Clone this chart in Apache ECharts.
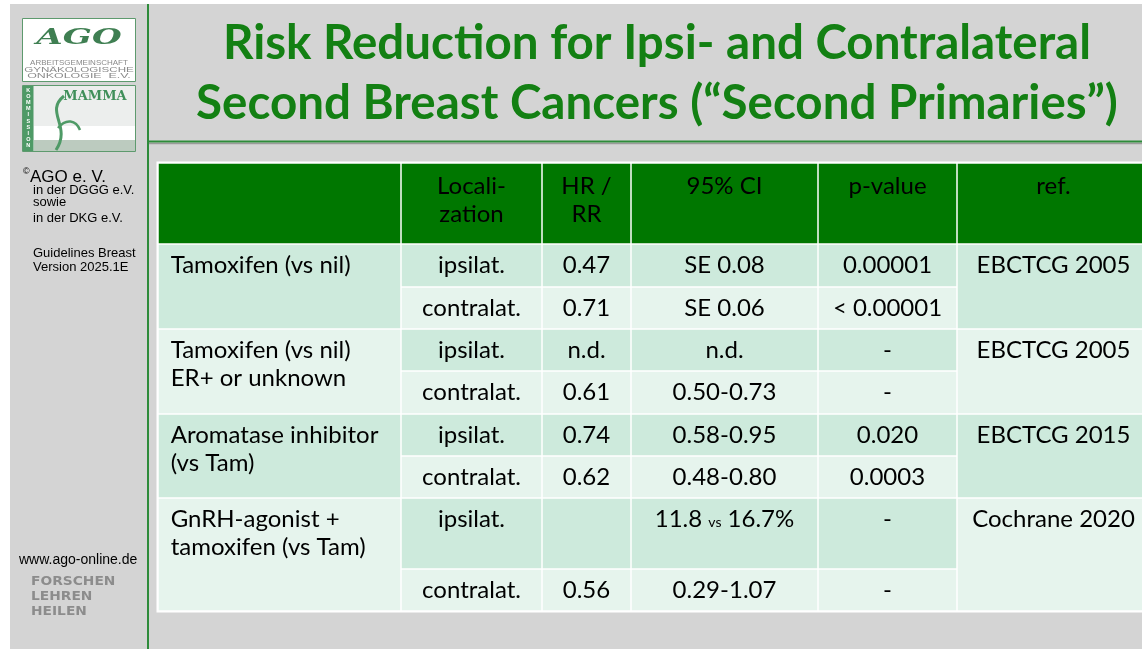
<!DOCTYPE html>
<html>
<head>
<meta charset="utf-8">
<script src="https://cdn.jsdelivr.net/npm/echarts@6/dist/echarts.min.js"></script>
<style>
  html, body { margin: 0; padding: 0; background: #ffffff; }
  #chart { width: 1142px; height: 649px; }
</style>
</head>
<body>
<div id="chart"></div>
<script>
// ---- table content ----
const TITLE_LINES = [
  'Risk Reduction for Ipsi- and Contralateral',
  'Second Breast Cancers (\u201CSecond Primaries\u201D)'
]
const HEADERS = ['', 'Locali-\nzation', 'HR /\nRR', '95% CI', 'p-value', 'ref.']
const TREATMENTS = [
  'Tamoxifen (vs nil)',
  'Tamoxifen (vs nil)\nER+ or unknown',
  'Aromatase inhibitor\n(vs Tam)',
  'GnRH-agonist +\ntamoxifen (vs Tam)'
]
const LOCALIZATION = ['ipsilat.', 'contralat.', 'ipsilat.', 'contralat.', 'ipsilat.', 'contralat.', 'ipsilat.', 'contralat.']
const HR_RR = ['0.47', '0.71', 'n.d.', '0.61', '0.74', '0.62', '', '0.56']
const CI_95 = ['SE 0.08', 'SE 0.06', 'n.d.', '0.50-0.73', '0.58-0.95', '0.48-0.80', '11.8 {vs|vs} 16.7%', '0.29-1.07']
const P_VALUES = ['0.00001', '< 0.00001', '-', '-', '0.020', '0.0003', '-', '-']
const REFS = ['EBCTCG 2005', 'EBCTCG 2005', 'EBCTCG 2015', 'Cochrane 2020']

// ---- layout (pixel edges of the table grid) ----
const COL_EDGES = [158, 401, 542, 631, 818, 957, 1150]
const ROW_EDGES = [163, 244, 287, 329, 371, 414, 456, 498, 569, 611]

const GREEN_HEAD = '#007700'
const BAND_DARK = '#cdeadc'
const BAND_LIGHT = '#e6f4ed'
const BG_GRAY = '#d4d4d4'
const LINE_GREEN = '#2e8b3a'
const TITLE_GREEN = '#138013'
const FONT = 'Lato'

// build the cell list from the arrays above
const cells = []
HEADERS.forEach((h, c) => {
  cells.push({ value: [c, 0, c + 1, 1], text: h, fill: GREEN_HEAD, align: 'center', head: true })
})
TREATMENTS.forEach((t, g) => {
  const fill = g % 2 === 0 ? BAND_DARK : BAND_LIGHT
  cells.push({ value: [0, 1 + g * 2, 1, 3 + g * 2], text: t, fill: fill, align: 'left' })
  cells.push({ value: [5, 1 + g * 2, 6, 3 + g * 2], text: REFS[g], fill: fill, align: 'center' })
})
const rowCols = [LOCALIZATION, HR_RR, CI_95, P_VALUES]
LOCALIZATION.forEach((_, r) => {
  const fill = r % 2 === 0 ? BAND_DARK : BAND_LIGHT
  rowCols.forEach((col, k) => {
    cells.push({ value: [k + 1, r + 1, k + 2, r + 2], text: col[r], fill: fill, align: 'center' })
  })
})

const renderCell = (params, api) => {
  const item = cells[params.dataIndex]
  const p0 = api.coord([COL_EDGES[api.value(0)], ROW_EDGES[api.value(1)]])
  const p1 = api.coord([COL_EDGES[api.value(2)], ROW_EDGES[api.value(3)]])
  const x0 = p0[0] + 0.75
  const y0 = p0[1] + 0.75
  const w = p1[0] - p0[0] - 1.5
  const h = p1[1] - p0[1] - 1.5
  const tx = item.align === 'left' ? x0 + 12 : x0 + w / 2
  return {
    type: 'group',
    children: [
      { type: 'rect', shape: { x: x0, y: y0, width: w, height: h }, style: { fill: item.fill } },
      {
        type: 'text',
        style: {
          text: item.text,
          x: tx,
          y: y0 + (item.head ? 9 : 7),
          align: item.align,
          verticalAlign: 'top',
          fill: '#000000',
          fontFamily: FONT,
          fontSize: 24,
          lineHeight: 28,
          rich: {
            vs: { fontSize: 14, fontFamily: FONT, fill: '#000000', padding: [6, 0, 0, 0] }
          }
        }
      }
    ]
  }
}

// ---- sidebar / frame decoration ----
const sideText = (text, x, y, size) => ({
  type: 'text', x: x, y: y,
  style: { text: text, fill: '#000000', fontFamily: 'Liberation Sans', fontSize: size, verticalAlign: 'middle' }
})
const mottoText = (text, y) => ({
  type: 'text', x: 31, y: y, scaleX: 1.15,
  style: { text: text, fill: '#8c8c8c', fontFamily: 'DejaVu Sans', fontWeight: 'bold', fontSize: 12, verticalAlign: 'middle' }
})
const logoLine = (text, y, sx) => ({
  type: 'text', x: 79, y: y, scaleX: sx,
  style: { text: text, fill: '#8a8a8a', fontFamily: 'Liberation Sans', fontSize: 8, align: 'center', verticalAlign: 'middle' }
})

const graphics = [
  // background panels
  { type: 'rect', shape: { x: 10, y: 4, width: 1132, height: 645 }, style: { fill: BG_GRAY }, z: -10 },
  { type: 'line', shape: { x1: 148, y1: 4, x2: 148, y2: 649 }, style: { stroke: LINE_GREEN, lineWidth: 2 } },
  { type: 'line', shape: { x1: 149, y1: 143.5, x2: 1142, y2: 143.5 }, style: { stroke: '#9a9a9a', lineWidth: 1.5 } },
  { type: 'line', shape: { x1: 149, y1: 141.5, x2: 1142, y2: 141.5 }, style: { stroke: LINE_GREEN, lineWidth: 2 } },
  // table white frame
  { type: 'rect', shape: { x: 156.5, y: 161.5, width: 1030, height: 451 }, style: { fill: '#ffffff' }, z: -5 },

  // AGO logo
  { type: 'rect', shape: { x: 22.5, y: 18.5, width: 113, height: 63 }, style: { fill: '#ffffff', stroke: '#5e9a6e', lineWidth: 1 } },
  { type: 'text', x: 79, y: 38, scaleX: 1.55, style: { text: 'AGO', fill: '#3f7f52', fontFamily: 'DejaVu Serif', fontStyle: 'italic', fontWeight: 'bold', fontSize: 22, align: 'center', verticalAlign: 'middle' } },
  logoLine('ARBEITSGEMEINSCHAFT', 63, 1.0),
  logoLine('GYNÄKOLOGISCHE', 69.5, 1.45),
  logoLine('ONKOLOGIE  E.V.', 76, 1.55),

  // MAMMA logo
  { type: 'rect', shape: { x: 22.5, y: 85.5, width: 113, height: 66 }, style: { fill: '#eceeed', stroke: '#5e9a6e', lineWidth: 1 } },
  { type: 'rect', shape: { x: 34, y: 126, width: 101, height: 14 }, style: { fill: '#ffffff' } },
  { type: 'rect', shape: { x: 34, y: 140, width: 101, height: 11 }, style: { fill: '#bccbbf' } },
  { type: 'rect', shape: { x: 23, y: 86, width: 10.5, height: 65 }, style: { fill: '#4e9a66' } },
  { type: 'text', x: 28.3, y: 118, style: { text: 'K\nO\nM\nM\nI\nS\nS\nI\nO\nN', fill: '#ffffff', fontFamily: 'Liberation Sans', fontWeight: 'bold', fontSize: 5.5, lineHeight: 6.2, align: 'center', verticalAlign: 'middle' } },
  { type: 'text', x: 95, y: 97, style: { text: 'MAMMA', fill: '#3f8f5a', fontFamily: 'DejaVu Serif', fontWeight: 'bold', fontSize: 13, align: 'center', verticalAlign: 'middle' } },
  { type: 'bezierCurve', shape: { x1: 64, y1: 96, cpx1: 44, cpy1: 112, cpx2: 72, cpy2: 126, x2: 56, y2: 150 }, style: { fill: 'none', stroke: '#4e9a66', lineWidth: 3 } },
  { type: 'bezierCurve', shape: { x1: 58, y1: 128, cpx1: 66, cpy1: 118, cpx2: 76, cpy2: 120, x2: 80, y2: 130 }, style: { fill: 'none', stroke: '#4e9a66', lineWidth: 2.5 } },

  // sidebar text
  sideText('\u00A9', 23, 172, 9),
  sideText('AGO e. V.', 30, 177, 17),
  sideText('in der DGGG e.V.', 33, 190, 13),
  sideText('sowie', 33, 202, 13),
  sideText('in der DKG e.V.', 33, 218, 13),
  sideText('Guidelines Breast', 33, 253, 13),
  sideText('Version 2025.1E', 33, 267, 13),
  sideText('www.ago-online.de', 19, 560, 14),
  mottoText('FORSCHEN', 582),
  mottoText('LEHREN', 597),
  mottoText('HEILEN', 612),

  // title
  { type: 'text', x: 657, y: 44, style: { text: TITLE_LINES[0], fill: TITLE_GREEN, fontFamily: FONT, fontWeight: 'bold', fontSize: 47.5, align: 'center', verticalAlign: 'middle' } },
  { type: 'text', x: 657, y: 104, style: { text: TITLE_LINES[1], fill: TITLE_GREEN, fontFamily: FONT, fontWeight: 'bold', fontSize: 47.5, align: 'center', verticalAlign: 'middle' } }
]

const chart = echarts.init(document.getElementById('chart'))

const option = {
  animation: false,
  backgroundColor: '#ffffff',
  grid: { left: 0, right: 0, top: 0, bottom: 0 },
  xAxis: { type: 'value', min: 0, max: 1142, show: false },
  yAxis: { type: 'value', min: 0, max: 649, inverse: true, show: false },
  graphic: graphics,
  series: [
    {
      type: 'custom',
      renderItem: renderCell,
      data: cells,
      silent: true
    }
  ]
}

chart.setOption(option)
</script>
</body>
</html>
